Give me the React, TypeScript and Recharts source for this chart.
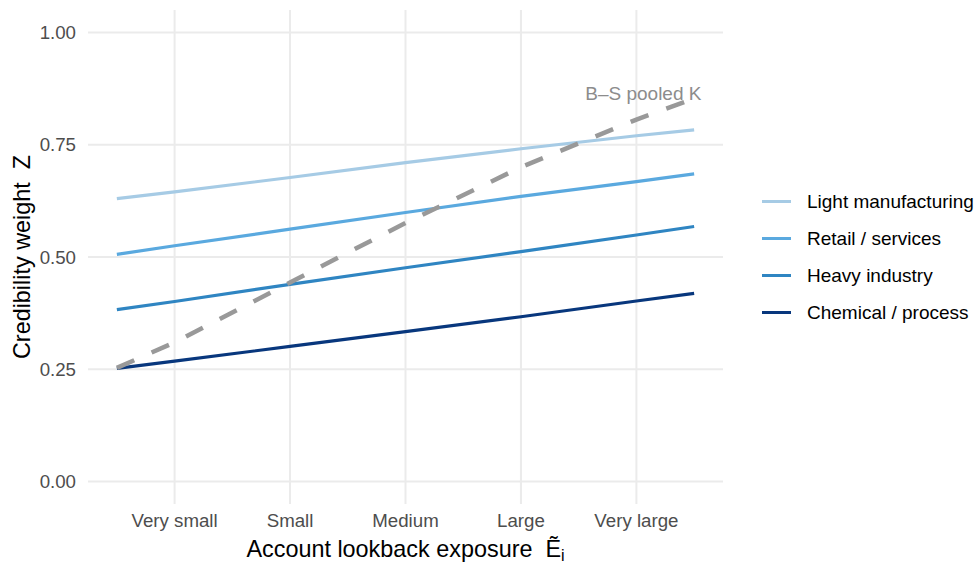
import { LineChart, Line, XAxis, YAxis, CartesianGrid, ReferenceDot } from 'recharts';

// exposure positions (1..5 = tick categories), lines run a bit past both ends
const EXPOSURE = [0.5, 1, 2, 3, 4, 5, 5.5];
const TICK_POS = [1, 2, 3, 4, 5];
const TICK_LABELS = ['Very small', 'Small', 'Medium', 'Large', 'Very large'];
const Y_TICKS = [0, 0.25, 0.5, 0.75, 1];

const LIGHT = [0.63, 0.645, 0.677, 0.71, 0.741, 0.77, 0.783];
const RETAIL = [0.506, 0.525, 0.562, 0.599, 0.635, 0.668, 0.685];
const HEAVY = [0.383, 0.401, 0.439, 0.476, 0.512, 0.549, 0.568];
const CHEMICAL = [0.252, 0.268, 0.301, 0.334, 0.367, 0.402, 0.419];
const POOLED = [0.253, 0.31, 0.443, 0.576, 0.7, 0.806, 0.853];

const SERIES = [
  { key: 'light', name: 'Light manufacturing', color: '#a6cbe5', values: LIGHT },
  { key: 'retail', name: 'Retail / services', color: '#5aa9df', values: RETAIL },
  { key: 'heavy', name: 'Heavy industry', color: '#2f85c2', values: HEAVY },
  { key: 'chemical', name: 'Chemical / process', color: '#08377d', values: CHEMICAL },
];

const FONT = '"Liberation Sans", Arial, Helvetica, sans-serif';

const data = EXPOSURE.map((x, i) => {
  const row: Record<string, number> = { x, pooled: POOLED[i] };
  SERIES.forEach((s) => {
    row[s.key] = s.values[i];
  });
  return row;
});

function XTitle(props: any) {
  const { x, y, width } = props.viewBox;
  return (
    <text
      x={x + width / 2}
      y={y + 53}
      textAnchor="middle"
      fontSize={23.4}
      fontFamily={FONT}
      fill="#000"
      style={{ whiteSpace: 'pre' }}
    >
      {'Account lookback exposure  \u1EBC'}
      <tspan fontSize={16} dy={4}>i</tspan>
    </text>
  );
}

function YTitle(props: any) {
  const { y, height } = props.viewBox;
  const cx = 30;
  const cy = y + height / 2;
  return (
    <text
      x={cx}
      y={cy}
      transform={`rotate(-90, ${cx}, ${cy})`}
      textAnchor="middle"
      fontSize={23.4}
      fontFamily={FONT}
      fill="#000"
      style={{ whiteSpace: 'pre' }}
    >
      {'Credibility weight  Z'}
    </text>
  );
}

function PooledLabel(props: any) {
  const { x, y, width, height } = props.viewBox;
  return (
    <text
      x={x + width / 2}
      y={y + height / 2 + 6.7}
      textAnchor="middle"
      fontSize={19}
      fontFamily={FONT}
      fill="#8c8c8c"
    >
      B–S pooled K
    </text>
  );
}

export default function App() {
  return (
    <div style={{ position: 'absolute', left: 0, top: 0, width: 976, height: 564, background: '#fff' }}>
      <LineChart
        width={976}
        height={564}
        data={data}
        margin={{ top: 10, right: 253, bottom: 0, left: 0 }}
      >
        <CartesianGrid stroke="#ebebeb" strokeWidth={2} syncWithTicks />
        <XAxis
          dataKey="x"
          type="number"
          domain={[0.25, 5.75]}
          ticks={TICK_POS}
          interval={0}
          allowDataOverflow
          tickFormatter={(v: number) => TICK_LABELS[v - 1]}
          height={60}
          axisLine={false}
          tickLine={false}
          tickSize={0}
          tickMargin={10}
          tick={{ fontSize: 18.7, fill: '#4d4d4d', fontFamily: FONT }}
          label={XTitle}
        />
        <YAxis
          type="number"
          domain={[-0.05, 1.05]}
          ticks={Y_TICKS}
          interval={0}
          allowDataOverflow
          tickFormatter={(v: number) => v.toFixed(2)}
          width={88}
          axisLine={false}
          tickLine={false}
          tickSize={0}
          tickMargin={12}
          tick={{ fontSize: 18.7, fill: '#4d4d4d', fontFamily: FONT }}
          label={YTitle}
        />
        {SERIES.map((s) => (
          <Line
            key={s.key}
            type="linear"
            dataKey={s.key}
            name={s.name}
            stroke={s.color}
            strokeWidth={3.2}
            dot={false}
            activeDot={false}
            isAnimationActive={false}
          />
        ))}
        <Line
          type="linear"
          dataKey="pooled"
          stroke="#999999"
          strokeWidth={4.5}
          strokeDasharray="19 19"
          dot={false}
          activeDot={false}
          isAnimationActive={false}
        />
        <ReferenceDot x={5.06} y={0.864} r={1} fill="none" stroke="none" label={PooledLabel} />
      </LineChart>

      {/* legend */}
      <div style={{ position: 'absolute', left: 762, top: 183, fontFamily: FONT, fontSize: 19, color: '#000' }}>
        {SERIES.map((s) => (
          <div key={s.key} style={{ height: 37, display: 'flex', alignItems: 'center', whiteSpace: 'nowrap' }}>
            <div style={{ width: 29, height: 3.2, background: s.color, marginRight: 16 }} />
            <span>{s.name}</span>
          </div>
        ))}
      </div>
    </div>
  );
}
